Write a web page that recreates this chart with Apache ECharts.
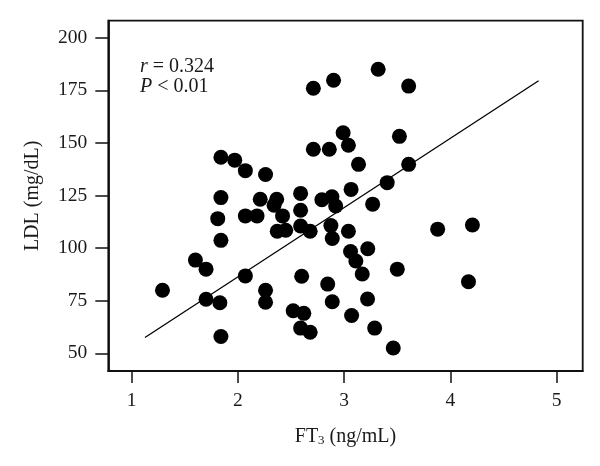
<!DOCTYPE html>
<html><head><meta charset="utf-8">
<script src="https://cdn.jsdelivr.net/npm/echarts@6/dist/echarts.min.js"></script>
<style>html,body{margin:0;padding:0;background:#fff}#c{width:600px;height:466px}</style>
</head><body><div id="c"></div>
<script>
// FT3 (ng/mL) values
const ft3 = [1.29,1.60,1.70,1.70,1.81,1.83,1.84,1.84,1.84,1.84,
  1.97,2.07,2.07,2.07,2.18,2.21,2.26,2.26,2.26,2.365,
  2.34,2.42,2.37,2.45,2.59,2.59,2.59,2.68,2.60,2.52,
  2.62,2.59,2.68,2.71,2.71,2.90,2.86,2.79,2.885,2.92,
  2.875,2.888,2.845,2.888,2.99,3.04,3.135,3.065,3.04,3.06,
  3.11,3.17,3.07,3.222,3.268,3.22,3.287,3.32,3.405,3.52,
  3.607,3.607,3.50,3.462,3.88,4.207,4.17];
// LDL (mg/dL) values
const ldl = [80,94.3,90,75.7,114,74,58,103.7,124,143.2,
  141.8,136.8,115.3,86.8,115.3,123.2,135,80,74.3,123.2,
  120.4,115.3,108,108.5,126,118,110.5,108,86.6,70.2,
  69,62,60,176,147,179.8,147,123,124.4,120,
  110.7,104.6,82.9,74.5,154.8,148.9,139.8,127.9,108,98.4,
  93.9,87.7,68,99.7,120.9,75.8,62,185,131.1,153.1,
  177,139.8,90,52.5,109,111,84];
// regression line end points
const fitX = [1.125, 4.83];
const fitY = [57.5, 179.5];
const xTicks = [1,2,3,4,5];
const yTicks = [50,75,100,125,150,175,200];

const FONT = 'Liberation Serif';
const TXT = '#1a1a1a';
const chart = echarts.init(document.getElementById('c'), null, {renderer:'canvas'});
chart.setOption({
  animation:false,
  backgroundColor:'#fff',
  grid:{left:108.3,right:17.3,top:20.7,bottom:95,show:true,borderColor:'#111',borderWidth:1.8,backgroundColor:'transparent'},
  xAxis:{type:'value',min:0.78,max:5.245,
    axisLine:{show:true,lineStyle:{color:'#111',width:1.8}},
    axisTick:{show:true,length:12,customValues:xTicks,lineStyle:{color:'#111',width:1.5}},
    axisLabel:{customValues:xTicks,margin:20,fontFamily:FONT,fontSize:19.5,color:TXT},
    splitLine:{show:false},
    name:'FT{s|3} (ng/mL)',nameLocation:'middle',nameGap:56,
    nameTextStyle:{fontFamily:FONT,fontSize:20,color:TXT,rich:{s:{fontFamily:FONT,fontSize:13,color:TXT,verticalAlign:'bottom',padding:[7,0,0,0]}}}
  },
  yAxis:{type:'value',min:41.6,max:208.07,
    axisLine:{show:true,lineStyle:{color:'#111',width:1.8}},
    axisTick:{show:true,length:13,customValues:yTicks,lineStyle:{color:'#111',width:1.5}},
    axisLabel:{customValues:yTicks,margin:21,fontFamily:FONT,fontSize:19.5,color:TXT},
    splitLine:{show:false},
    name:'LDL (mg/dL)',nameLocation:'middle',nameGap:66,nameRotate:90,
    nameTextStyle:{fontFamily:FONT,fontSize:20,color:TXT}
  },
  graphic:[
    {type:'text',left:140,top:56.5,style:{text:'{i|r} = 0.324',font:'20px "Liberation Serif"',fill:TXT,
      rich:{i:{fontFamily:FONT,fontSize:20,fontStyle:'italic',fill:TXT}}}},
    {type:'text',left:140,top:77,style:{text:'{i|P} < 0.01',font:'20px "Liberation Serif"',fill:TXT,
      rich:{i:{fontFamily:FONT,fontSize:20,fontStyle:'italic',fill:TXT}}}}
  ],
  series:[
    {type:'scatter',symbol:'circle',symbolSize:15,itemStyle:{color:'#000',opacity:1},
      data:ft3.map((x,i)=>[x,ldl[i]]),z:3},
    {type:'line',showSymbol:false,symbol:'none',lineStyle:{color:'#000',width:1.3},
      data:fitX.map((x,i)=>[x,fitY[i]]),z:2}
  ]
});
</script></body></html>
